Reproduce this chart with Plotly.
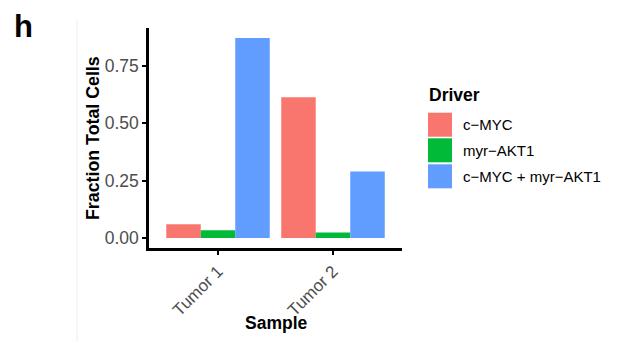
import plotly.graph_objects as go

# ---- data ----
samples = ["Tumor 1", "Tumor 2"]
drivers = ["c\u2212MYC", "myr\u2212AKT1", "c\u2212MYC + myr\u2212AKT1"]
frac_cmyc = [0.060, 0.614]
frac_akt1 = [0.034, 0.024]
frac_both = [0.872, 0.290]
colors = ["#F8766D", "#00BA38", "#619CFF"]
y_ticks = [0.0, 0.25, 0.5, 0.75]
y_tick_text = ["0.00", "0.25", "0.50", "0.75"]

W, H = 621, 348
L, R, T, B = 149, 219, 28, 100
PW, PH = W - L - R, H - T - B

def px_x(x):
    return (x - L) / PW

def px_y(y):
    return (H - B - y) / PH

FONT = "Liberation Sans, Arial, sans-serif"

fig = go.Figure()
for name, vals, col in zip(drivers, [frac_cmyc, frac_akt1, frac_both], colors):
    fig.add_trace(go.Bar(x=samples, y=vals, name=name, marker=dict(color=col, line=dict(width=0)),
                         showlegend=False))

fig.update_layout(
    width=W, height=H, margin=dict(l=L, r=R, t=T, b=B),
    paper_bgcolor="white", plot_bgcolor="white",
    barmode="group", bargap=0.1, bargroupgap=0,
    font=dict(family=FONT),
)
fig.update_xaxes(range=[-0.6, 1.6], showgrid=False, zeroline=False,
                 showline=True, linecolor="black", linewidth=2.5,
                 ticks="outside", ticklen=4, tickwidth=1.5, tickcolor="black",
                 tickangle=-45, tickfont=dict(size=17, color="#4D4D4D", family=FONT))
fig.update_yaxes(range=[-0.0436, 0.9156], showgrid=False, zeroline=False,
                 showline=True, linecolor="black", linewidth=2.5,
                 ticks="outside", ticklen=4, tickwidth=1.5, tickcolor="black",
                 tickvals=y_ticks, ticktext=y_tick_text,
                 tickfont=dict(size=17.5, color="#4D4D4D", family=FONT))

ann = []
# axis titles
ann.append(dict(text="<b>Sample</b>", x=px_x(276), y=px_y(323), xref="paper", yref="paper",
                showarrow=False, font=dict(size=17.5, color="black", family=FONT),
                xanchor="center", yanchor="middle"))
ann.append(dict(text="<b>Fraction Total Cells</b>", x=px_x(93), y=px_y(138), xref="paper", yref="paper",
                showarrow=False, textangle=-90, font=dict(size=17.8, color="black", family=FONT),
                xanchor="center", yanchor="middle"))
# panel letter
ann.append(dict(text="<b>h</b>", x=px_x(12), y=px_y(27), xref="paper", yref="paper",
                showarrow=False, font=dict(size=31, color="black", family=FONT),
                xanchor="left", yanchor="middle"))
# legend
ann.append(dict(text="<b>Driver</b>", x=px_x(427), y=px_y(95), xref="paper", yref="paper",
                showarrow=False, font=dict(size=17.5, color="black", family=FONT),
                xanchor="left", yanchor="middle"))
shapes = []
centers = [124.7, 150.3, 176.3]
for name, col, cy in zip(drivers, colors, centers):
    shapes.append(dict(type="rect", xref="paper", yref="paper",
                       x0=px_x(428), x1=px_x(452), y0=px_y(cy - 12), y1=px_y(cy + 12),
                       fillcolor=col, line=dict(width=0)))
    ann.append(dict(text=name, x=px_x(461), y=px_y(cy), xref="paper", yref="paper",
                    showarrow=False, font=dict(size=15, color="black", family=FONT),
                    xanchor="left", yanchor="middle"))
# faint panel border line
shapes.append(dict(type="line", xref="paper", yref="paper",
                   x0=px_x(77), x1=px_x(77), y0=px_y(20), y1=px_y(342),
                   line=dict(color="#eeeeee", width=1)))

fig.update_layout(annotations=ann, shapes=shapes)
fig.write_html("out.html")
